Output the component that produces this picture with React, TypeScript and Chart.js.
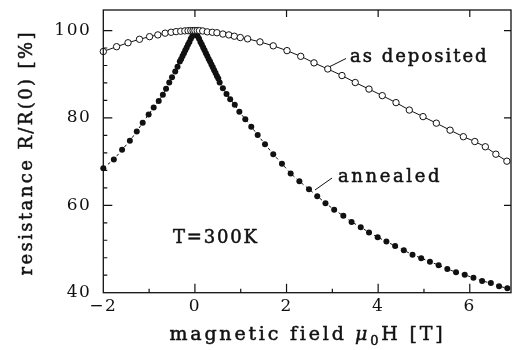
import React, { useEffect, useRef } from "react";
import { Chart, registerables } from "chart.js";

Chart.register(...registerables);

// ---------- data ----------
const xTickValues = [-2, 0, 2, 4, 6];
const yTickValues = [40, 60, 80, 100];
const xMinorTickValues = [-1, 1, 3, 5];
const yMinorTickValues = [44, 48, 52, 56, 64, 68, 72, 76, 84, 88, 92, 96];

const depositedField = [
  -2.0, -1.71, -1.46, -1.21, -0.99, -0.81, -0.65, -0.52, -0.41, -0.31, -0.22, -0.15, -0.09, -0.04,
  0, 0.05, 0.1, 0.17, 0.27, 0.38, 0.48, 0.61, 0.74, 0.86, 0.99, 1.15, 1.42, 1.71, 2.01, 2.31, 2.6,
  2.9, 3.21, 3.5, 3.8, 4.09, 4.39, 4.68, 4.98, 5.27, 5.57, 5.86, 6.11, 6.34, 6.57, 6.81,
];
const depositedResistance = [
  95.2, 96.3, 97.2, 98.0, 98.6, 99.0, 99.4, 99.6, 99.75, 99.85, 99.92, 99.96, 99.99, 100,
  100, 100, 99.98, 99.9, 99.7, 99.6, 99.5, 99.2, 99.0, 98.7, 98.4, 98.1, 97.4, 96.5, 95.4, 94.1, 92.6,
  91.2, 89.7, 88.1, 86.6, 85.1, 83.5, 81.8, 80.3, 78.8, 77.2, 75.7, 74.6, 73.4, 71.7, 70.1,
];

const annealedField = [
  -2.0, -1.77, -1.59, -1.42, -1.27, -1.14, -1.01, -0.9, -0.79, -0.7, -0.63, -0.56, -0.5, -0.43,
  -0.38, -0.33, -0.3, -0.27, -0.24, -0.21, -0.18, -0.15, -0.12, -0.09, -0.06, -0.03, 0, 0.03, 0.06,
  0.09, 0.12, 0.15, 0.18, 0.21, 0.24, 0.27, 0.3, 0.33, 0.36, 0.39, 0.42, 0.45, 0.48, 0.51, 0.54,
  0.61, 0.69, 0.77, 0.87, 0.97, 1.1, 1.23, 1.37, 1.53, 1.71, 1.9, 2.09, 2.28, 2.49, 2.67, 2.85,
  3.04, 3.24, 3.42, 3.62, 3.8, 3.99, 4.18, 4.37, 4.56, 4.75, 4.94, 5.13, 5.32, 5.51, 5.7, 5.89,
  6.08, 6.27, 6.46, 6.64, 6.82,
];
const annealedResistance = [
  68.5, 70.5, 72.7, 74.8, 76.9, 78.9, 80.8, 82.4, 83.9, 85.3, 86.7, 88.1, 89.3, 90.6,
  91.7, 92.9, 93.5, 94.2, 94.8, 95.5, 96.1, 96.8, 97.4, 98.1, 98.7, 99.4, 100, 99.4, 98.7,
  98.1, 97.4, 96.8, 96.1, 95.5, 94.8, 94.2, 93.5, 92.9, 92.2, 91.6, 90.9, 90.3, 89.6, 89.0, 88.1,
  86.8, 85.5, 84.3, 83.0, 81.4, 79.7, 78.0, 76.1, 74.0, 71.7, 69.5, 67.3, 65.5, 63.7, 62.1, 60.5,
  59.0, 57.6, 56.2, 55.0, 53.8, 52.7, 51.7, 50.7, 49.7, 48.7, 47.9, 47.1, 46.3, 45.4, 44.7, 44.1,
  43.4, 42.7, 42.2, 41.5, 41.0,
];

const FONT = "'DejaVu Serif', serif";
const INK = "#111";

function spacedWidth(ctx: CanvasRenderingContext2D, text: string, spacing: number) {
  ctx.letterSpacing = "0px";
  return ctx.measureText(text).width + spacing * (text.length - 1);
}

function drawSpaced(
  ctx: CanvasRenderingContext2D,
  text: string,
  x: number,
  y: number,
  spacing: number
) {
  ctx.letterSpacing = spacing + "px";
  ctx.textAlign = "left";
  ctx.lineWidth = 0.5;
  ctx.strokeText(text, x, y);
  ctx.fillText(text, x, y);
  ctx.letterSpacing = "0px";
}

const decorPlugin = {
  id: "decor",
  beforeDraw(chart: any) {
    chart.ctx.letterSpacing = "1.5px";
  },
  afterDraw(chart: any) {
    const ctx: CanvasRenderingContext2D = chart.ctx;
    const { left, right, top, bottom } = chart.chartArea;
    const xs = chart.scales.x;
    const ys = chart.scales.y;
    ctx.save();
    ctx.letterSpacing = "0px";
    ctx.strokeStyle = INK;
    ctx.fillStyle = INK;
    // frame
    ctx.lineWidth = 1.3;
    ctx.strokeRect(left, top, right - left, bottom - top);
    // ticks
    ctx.lineWidth = 1.2;
    ctx.beginPath();
    xTickValues.forEach((v) => {
      const p = xs.getPixelForValue(v);
      if (v > -2) {
        ctx.moveTo(p, bottom);
        ctx.lineTo(p, bottom - 9);
        ctx.moveTo(p, top);
        ctx.lineTo(p, top + 7);
      }
    });
    xMinorTickValues.forEach((v) => {
      const p = xs.getPixelForValue(v);
      ctx.moveTo(p, bottom);
      ctx.lineTo(p, bottom - 4);
    });
    yTickValues.forEach((v) => {
      const p = ys.getPixelForValue(v);
      if (v > 40) {
        ctx.moveTo(left, p);
        ctx.lineTo(left + 9, p);
        ctx.moveTo(right, p);
        ctx.lineTo(right - 7, p);
      }
    });
    yMinorTickValues.forEach((v) => {
      const p = ys.getPixelForValue(v);
      ctx.moveTo(left, p);
      ctx.lineTo(left + 4, p);
    });
    ctx.stroke();

    // x title with subscript
    const big = "19px " + FONT;
    const small = "13px " + FONT;
    const sp = 2.8;
    const parts = [
      { t: "magnetic field ", f: big, dy: 0 },
      { t: "\u03bc", f: "italic " + big, dy: 0 },
      { t: "0", f: small, dy: 5 },
      { t: "H [T]", f: big, dy: 0 },
    ];
    let total = 0;
    const widths = parts.map((p) => {
      ctx.font = p.f;
      const w = spacedWidth(ctx, p.t, sp) + sp;
      total += w;
      return w;
    });
    total -= sp;
    let cx = 306 - total / 2;
    ctx.textBaseline = "alphabetic";
    parts.forEach((p, i) => {
      ctx.font = p.f;
      drawSpaced(ctx, p.t, cx, 340 + p.dy, sp);
      cx += widths[i];
    });

    // y title rotated
    ctx.save();
    ctx.translate(32, 154);
    ctx.rotate(-Math.PI / 2);
    ctx.font = "18px " + FONT;
    const yt = "resistance R/R(0) [%]";
    const ysp = 2.4;
    const yw = spacedWidth(ctx, yt, ysp);
    drawSpaced(ctx, yt, -yw / 2, 0, ysp);
    ctx.restore();

    // annotations
    ctx.font = "18px " + FONT;
    drawSpaced(ctx, "as deposited", 350, 62, 2);
    drawSpaced(ctx, "annealed", 338, 182, 2.6);
    drawSpaced(ctx, "T=300K", 173, 243, 1.8);
    ctx.lineWidth = 1;
    ctx.beginPath();
    ctx.moveTo(330, 66.5);
    ctx.lineTo(346, 58.5);
    ctx.moveTo(315, 190);
    ctx.lineTo(332, 178);
    ctx.stroke();
    ctx.restore();
    chart.ctx.letterSpacing = "0px";
  },
};

export default function App() {
  const ref = useRef<HTMLCanvasElement | null>(null);
  useEffect(() => {
    document.body.style.margin = "0";
    if (!ref.current) return;
    const deposited = depositedField.map((x, i) => ({ x, y: depositedResistance[i] }));
    const annealed = annealedField.map((x, i) => ({ x, y: annealedResistance[i] }));
    const chart = new Chart(ref.current, {
      type: "scatter",
      data: {
        datasets: [
          {
            label: "as deposited",
            data: deposited,
            showLine: true,
            clip: 6,
            borderColor: INK,
            borderWidth: 1,
            pointRadius: 3.2,
            pointBorderWidth: 1,
            pointBackgroundColor: "#fff",
            pointBorderColor: INK,
          },
          {
            label: "annealed",
            data: annealed,
            showLine: true,
            clip: 6,
            borderColor: INK,
            borderWidth: 1,
            borderDash: [3, 3],
            pointRadius: 3,
            pointBorderWidth: 0,
            pointBackgroundColor: INK,
            pointBorderColor: INK,
          },
        ],
      },
      options: {
        animation: false,
        responsive: false,
        maintainAspectRatio: false,
        events: [],
        layout: { padding: { top: 10, right: 1, left: 0, bottom: 0 } },
        plugins: {
          legend: { display: false },
          tooltip: { enabled: false },
        },
        scales: {
          x: {
            type: "linear",
            min: -2,
            max: 6.9,
            afterFit: (s: any) => {
              s.height = 57.3;
              s.paddingLeft = 0;
              s.paddingRight = 0;
            },
            afterBuildTicks: (s: any) => {
              s.ticks = xTickValues.map((v) => ({ value: v }));
            },
            grid: { display: false, drawTicks: false },
            border: { display: false },
            ticks: {
              padding: 4,
              color: INK,
              font: { family: FONT, size: 17 },
              callback: (v: any) => String(v).replace("-", "\u2212"),
            },
          },
          y: {
            type: "linear",
            min: 40,
            max: 104.7,
            afterFit: (s: any) => {
              s.width = 103.3;
              s.paddingTop = 0;
              s.paddingBottom = 0;
            },
            afterBuildTicks: (s: any) => {
              s.ticks = yTickValues.map((v) => ({ value: v }));
            },
            grid: { display: false, drawTicks: false },
            border: { display: false },
            ticks: {
              padding: 12,
              color: INK,
              font: { family: FONT, size: 17 },
            },
          },
        },
      },
      plugins: [decorPlugin],
    });
    return () => chart.destroy();
  }, []);
  return (
    <div style={{ width: 516, height: 350 }}>
      <canvas ref={ref} width={516} height={350} style={{ display: "block" }} />
    </div>
  );
}
